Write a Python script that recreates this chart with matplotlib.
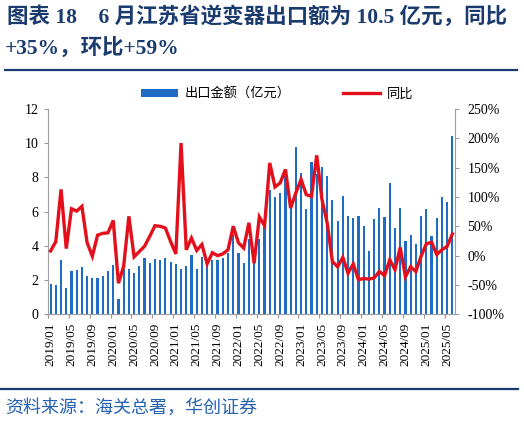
import matplotlib
matplotlib.use("Agg")
import matplotlib.pyplot as plt
from matplotlib.lines import Line2D
from matplotlib.patches import Patch
import numpy as np

# 月份（2019/01 - 2025/06）
months = [f"{y}/{m:02d}" for y in range(2019, 2026) for m in range(1, 13)][:78]

# 出口金额（亿元）
export_value = [
    1.76, 1.70, 3.16, 1.55, 2.52, 2.58, 2.75, 2.25, 2.13, 2.13, 2.23, 2.52,
    2.87, 0.89, 2.62, 2.64, 2.40, 2.81, 3.28, 3.00, 3.22, 3.18, 3.28, 3.08,
    2.95, 2.65, 2.81, 3.45, 2.64, 3.35, 2.81, 3.16, 3.18, 3.28, 3.59, 4.67,
    3.59, 3.00, 4.40, 3.00, 4.40, 5.10, 7.27, 6.84, 7.11, 8.10, 6.30, 9.75,
    8.28, 6.14, 8.90, 8.20, 8.62, 8.08, 6.69, 5.45, 6.94, 5.72, 5.64, 5.72,
    5.14, 3.68, 5.56, 6.24, 5.66, 7.69, 5.04, 6.22, 4.26, 4.61, 4.09, 5.72,
    6.18, 4.59, 5.62, 6.88, 6.55, 10.43,
]

# 同比（%）
yoy = [
    8, 24, 113, 12, 80, 76, 84, 22, -1, 35, 38, 39,
    60, -47, -18, 67, -2, 7, 16, 33, 51, 50, 47, 24,
    3, 192, 10, 30, 9, 19, -14, 5, 0, 3, 10, 50,
    22, 13, 56, -13, 66, 51, 158, 117, 124, 147, 81, 107,
    130, 104, 101, 171, 96, 56, -10, -19, -3, -30, -14, -41,
    -39, -40, -38, -27, -34, -7, -24, 14, -36, -19, -27, -1,
    20, 23, 2, 10, 16, 37,
]

navy = "#1b3b6f"
serif = ["Liberation Serif", "Noto Sans CJK SC"]
cjk = ["Noto Sans CJK SC", "DejaVu Sans"]

fig = plt.figure(figsize=(5.24, 4.24), dpi=100)
ax = fig.add_axes([48 / 524, 1 - 314.3 / 424, (455 - 48) / 524, (314.3 - 109) / 424])
ax2 = ax.twinx()

x = np.arange(len(months))
ax.bar(x, export_value, width=0.42, color="#1f6cc4", zorder=2)
ax2.plot(x, yoy, color="#e3101c", linewidth=2.4, solid_joinstyle="miter", zorder=3)

ax.set_xlim(-0.5, len(months) - 0.5)
ax.set_ylim(0, 12)
ax.set_yticks(range(0, 13, 2))
ax2.set_ylim(-100, 250)
ax2.set_yticks(range(-100, 251, 50))
ax2.set_yticklabels([f"{v}%" for v in range(-100, 251, 50)])

# 刻度线在类别之间，标签在类别中心
ax.set_xticks(np.arange(-0.5, len(months), 4))
ax.set_xticklabels([])
ax.set_xticks(x[::4], minor=True)
ax.set_xticklabels(months[::4], minor=True, rotation=90, family=serif, fontsize=9.5)
ax.tick_params(axis="x", which="minor", length=0, pad=6)
ax.tick_params(axis="x", which="major", length=3, color="#999999", direction="out")

for a in (ax, ax2):
    a.tick_params(axis="y", length=3, color="#999999", labelsize=10)
    for lab in a.get_yticklabels():
        lab.set_family(serif)
    for s in a.spines.values():
        s.set_color("#a0a0a0")
    a.spines["top"].set_visible(False)
ax.tick_params(axis="y", pad=4)
ax2.tick_params(axis="y", pad=6)
ax2.spines["left"].set_visible(False)
ax.spines["right"].set_visible(False)

# 图例
handles = [
    Patch(facecolor="#1f6cc4", edgecolor="none"),
    Line2D([0], [0], color="#e3101c", linewidth=2.4),
]
fig.legend(handles, ["出口金额（亿元）", "同比"], loc="center",
           bbox_to_anchor=(277 / 524, 1 - 94 / 424), ncol=2, frameon=False,
           prop={"family": cjk, "size": 9.5}, handlelength=2.8, handleheight=0.5,
           columnspacing=4.0, handletextpad=0.5)

# 标题
fig.text(7 / 524, 1 - 17 / 424, "图表 18    6 月江苏省逆变器出口额为 10.5 亿元，同比",
         family=serif, fontsize=15.5, fontweight="bold", color=navy, va="center")
fig.text(5 / 524, 1 - 49 / 424, "+35%，环比+59%",
         family=serif, fontsize=15.5, fontweight="bold", color=navy, va="center")
fig.add_artist(Line2D([5 / 524, 517 / 524], [1 - 70 / 424] * 2, color=navy, linewidth=1.6))

# 底部
fig.add_artist(Line2D([0, 518 / 524], [1 - 389 / 424] * 2, color=navy, linewidth=1.6))
fig.text(5 / 524, 1 - 408 / 424, "资料来源：海关总署，华创证券",
         family=cjk, fontsize=13, color="#2361b4", va="center", style="italic")

fig.savefig("out.png", dpi=100)
